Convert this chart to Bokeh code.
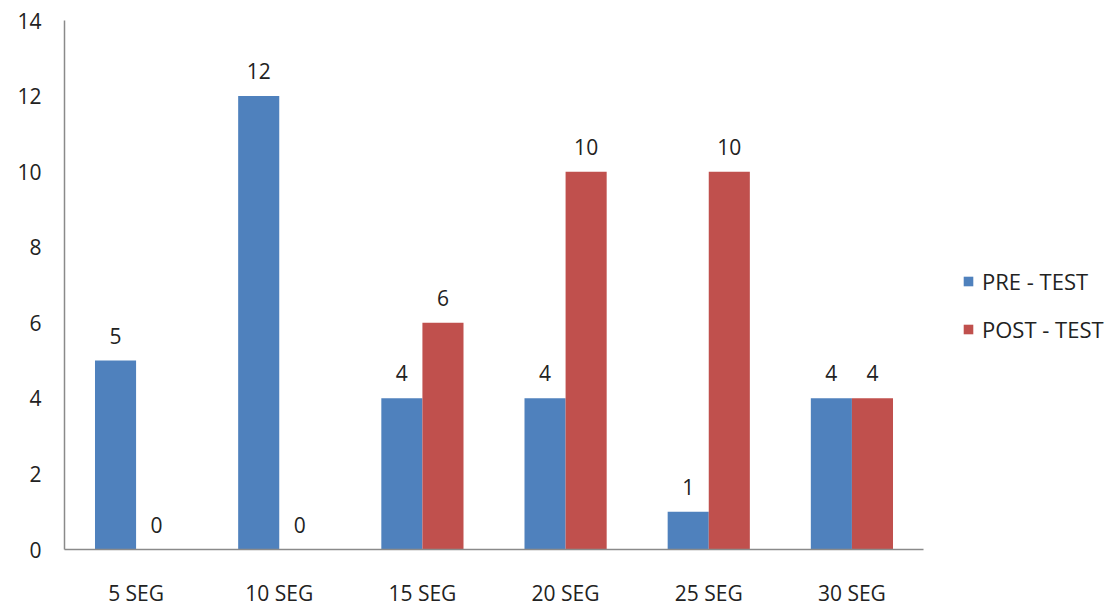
from bokeh.plotting import figure
from bokeh.models import ColumnDataSource, Range1d, Legend, LegendItem, FixedTicker
from bokeh.core.properties import value
from bokeh.embed import file_html
from bokeh.resources import INLINE

categories = ["5 SEG", "10 SEG", "15 SEG", "20 SEG", "25 SEG", "30 SEG"]
pre_test = [5, 12, 4, 4, 1, 4]
post_test = [0, 0, 6, 10, 10, 4]
series_names = ["PRE - TEST", "POST - TEST"]
y_ticks = [0, 2, 4, 6, 8, 10, 12, 14]

BLUE = "#4F81BD"
RED = "#C0504D"
FONT = "Open Sans"
TXT = "#222222"
FS = "21px"

n = len(categories)
centers = [i + 0.5 for i in range(n)]
bw = 0.287

src = ColumnDataSource(dict(
    xc=centers,
    xpre=[c - bw / 2 for c in centers], xpost=[c + bw / 2 for c in centers],
    pre=pre_test, post=post_test,
    pre_lbl=[str(v) for v in pre_test], post_lbl=[str(v) for v in post_test],
))

# frame spans to the right edge; the axis line itself is bounded to the categories
p = figure(width=1119, height=609, x_range=Range1d(0, n * 1055 / 859),
           y_range=Range1d(0, 14), output_backend="svg", toolbar_location=None,
           min_border_left=64, min_border_right=0, min_border_top=20, min_border_bottom=49)
p.outline_line_color = None
p.xgrid.grid_line_color = None
p.ygrid.grid_line_color = None

r1 = p.vbar(x="xpre", top="pre", width=bw, source=src, fill_color=BLUE, line_color=None)
r2 = p.vbar(x="xpost", top="post", width=bw, source=src, fill_color=RED, line_color=None)

for col, xcol, ycol in (("pre_lbl", "xpre", "pre"), ("post_lbl", "xpost", "post")):
    p.text(x=xcol, y=ycol, text=col, source=src,
           text_align="center", text_baseline="middle", y_offset=-25,
           text_font=value(FONT), text_font_size=FS, text_color=TXT)

p.yaxis.ticker = FixedTicker(ticks=y_ticks)
p.xaxis.ticker = FixedTicker(ticks=centers)
p.xaxis.major_label_overrides = {c: name for c, name in zip(centers, categories)}
p.xaxis.bounds = (0, n)
for ax in (p.xaxis, p.yaxis):
    ax.major_tick_line_color = None
    ax.minor_tick_line_color = None
    ax.axis_line_color = "#8a8a8a"
    ax.axis_line_width = 1.5
    ax.major_label_text_font = FONT
    ax.major_label_text_font_size = FS
    ax.major_label_text_color = TXT
p.yaxis.major_label_standoff = 17
p.xaxis.major_label_standoff = 23

legend = Legend(items=[LegendItem(label=series_names[0], renderers=[r1]),
                       LegendItem(label=series_names[1], renderers=[r2])],
                location=(898, 205), orientation="vertical",
                glyph_width=12, glyph_height=12, label_standoff=8, spacing=18,
                padding=0, margin=0, border_line_color=None, background_fill_alpha=0,
                label_text_font=FONT, label_text_font_size="22px", label_text_color=TXT)
p.add_layout(legend, "center")

open("out.html", "w").write(file_html(p, INLINE))
